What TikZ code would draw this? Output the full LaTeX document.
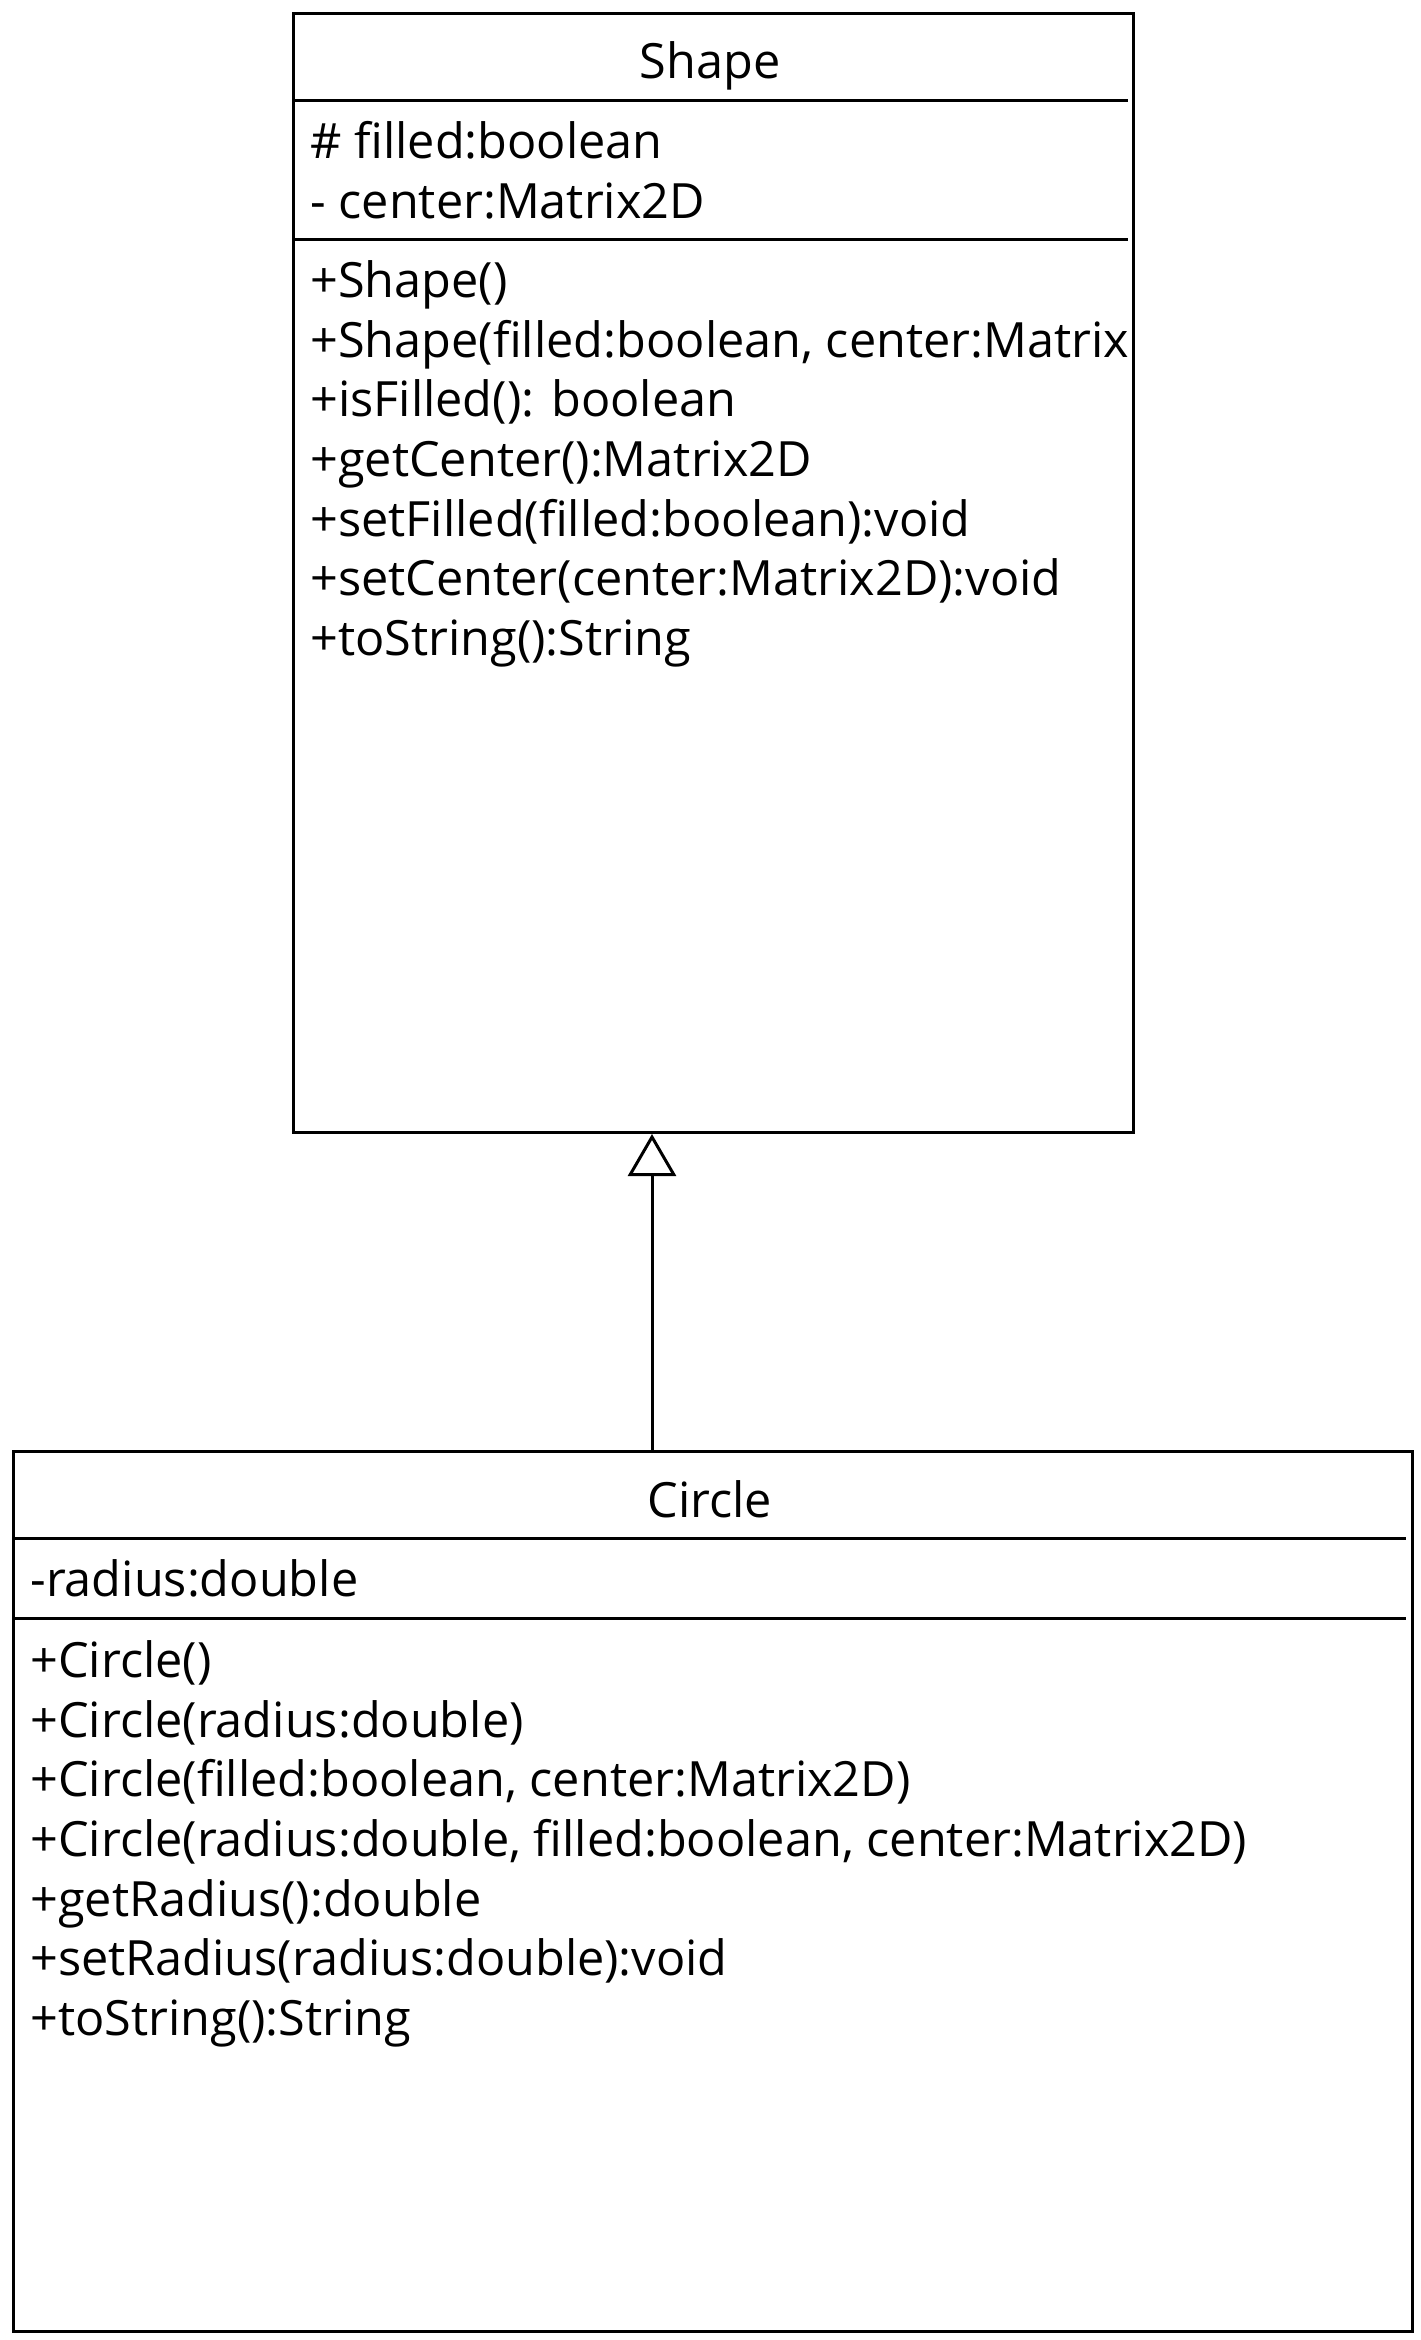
\documentclass[tikz,border=0pt]{standalone}
\usepackage{fontspec}
\setmainfont{Open Sans}
\usetikzlibrary{arrows.meta}

\begin{document}
\begin{tikzpicture}[x=0.5pt,y=-0.5pt,
    classbox/.style={draw,line width=1.5pt,inner sep=0pt,anchor=north west},
    sepline/.style={line width=1.5pt},
    classname/.style={anchor=base,inner sep=0pt,font=\fontsize{24.3}{29.85}\selectfont},
    member/.style={anchor=base west,inner sep=0pt,font=\fontsize{24.3}{29.85}\selectfont}]
    \useasboundingbox (0,0) rectangle (1420,2340);
    % Klasse Shape
    \node[classbox,minimum width=420pt,minimum height=559.5pt] (shape) at (292,12) {};
    \draw[sepline] (292,100) -- (1128,100);
    \draw[sepline] (292,239) -- (1128,239);
    \node[classname] (shapename) at (710,78) {Shape};
    \node[member] (shapeattr1) at (310,158) {\# filled:boolean};
    \node[member] (shapeattr2) at (310,218) {- center:Matrix2D};
    \begin{scope}
        \clip (292,240) rectangle (1130,1130);
        \node[member] (shapeop1) at (310,297) {+Shape()};
        \node[member] (shapeop2) at (310,357) {+Shape(filled:boolean, center:Matrix2D)};
        \node[member] (shapeop3) at (310,416) {+isFilled(): boolean};
        \node[member] (shapeop4) at (310,476) {+getCenter():Matrix2D};
        \node[member] (shapeop5) at (310,536) {+setFilled(filled:boolean):void};
        \node[member] (shapeop6) at (310,595) {+setCenter(center:Matrix2D):void};
        \node[member] (shapeop7) at (310,655) {+toString():String};
    \end{scope}
    % Klasse Circle
    \node[classbox,minimum width=699.5pt,minimum height=440pt] (circle) at (12,1450) {};
    \draw[sepline] (12,1538) -- (1406,1538);
    \draw[sepline] (12,1618) -- (1406,1618);
    \node[classname] (circlename) at (710,1517) {Circle};
    \node[member] (circleattr1) at (30,1596) {-radius:double};
    \node[member] (circleop1) at (30,1677) {+Circle()};
    \node[member] (circleop2) at (30,1737) {+Circle(radius:double)};
    \node[member] (circleop3) at (30,1796) {+Circle(filled:boolean, center:Matrix2D)};
    \node[member] (circleop4) at (30,1856) {+Circle(radius:double, filled:boolean, center:Matrix2D)};
    \node[member] (circleop5) at (30,1916) {+getRadius():double};
    \node[member] (circleop6) at (30,1975) {+setRadius(radius:double):void};
    \node[member] (circleop7) at (30,2035) {+toString():String};
    % Generalisatie
    \coordinate (genx) at (652,0);
    \draw[line width=1.5pt,-{Triangle[open,length=21pt,width=24pt]}] (circle.north -| genx) -- (shape.south -| genx);
\end{tikzpicture}
\end{document}
